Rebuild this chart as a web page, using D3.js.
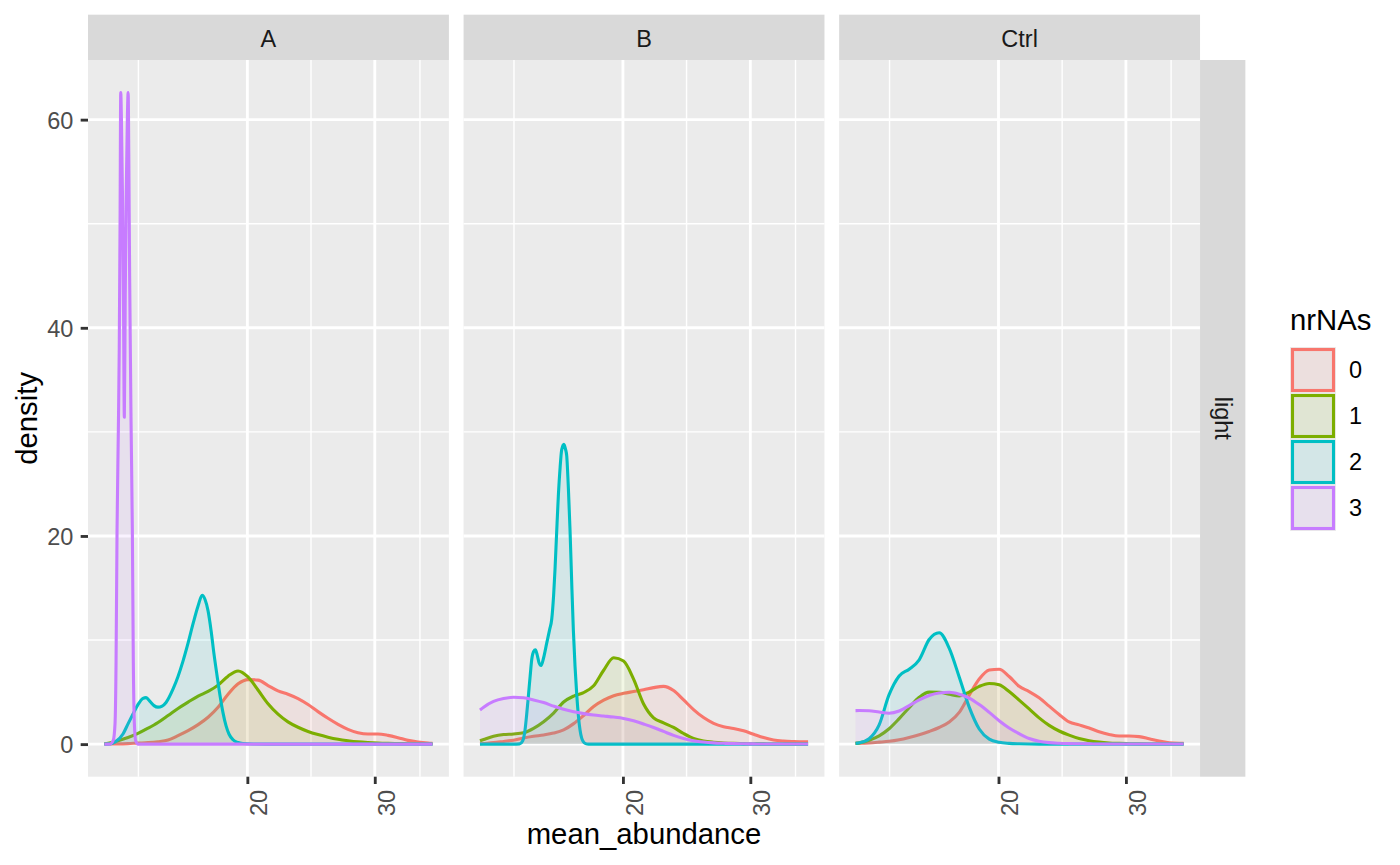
<!DOCTYPE html>
<html><head><meta charset="utf-8">
<script src="https://cdn.jsdelivr.net/npm/d3@7"></script>
<style>
body{margin:0;background:#fff}
svg{display:block}
text{font-family:"Liberation Sans",Arial,Helvetica,sans-serif}
</style>
</head><body>
<svg id="c" width="1400" height="865"></svg>
<script>
// ---------------- data ----------------
const facets = ["A", "B", "Ctrl"];
const groups = ["0", "1", "2", "3"];
const colours = ["#F8766D", "#7CAE00", "#00BFC4", "#C77CFF"];
const xBreaks = [20, 30];
const xMinor = [14.14, 24.49, 34.64];
const yBreaks = [0, 20, 40, 60];
const yMinor = [10, 30, 50];

// common abundance grid (log-spaced) for the smooth curves
const grid = [12.69, 12.84, 13.25, 13.68, 14.12, 14.58, 15.05, 15.54, 16.04, 16.56, 17.10, 17.65, 18.22, 18.81, 19.42, 20.04, 20.69, 21.36, 22.05, 22.76, 23.50, 24.26, 25.04, 25.85, 26.69, 27.55, 28.44, 29.36, 30.31, 31.29, 32.30, 33.35, 34.43, 35.54, 36.05];

const densA0 = [0.00, 0.01, 0.02, 0.05, 0.10, 0.14, 0.23, 0.39, 0.81, 1.29, 1.87, 2.58, 3.54, 4.79, 5.79, 6.20, 6.15, 5.63, 5.11, 4.79, 4.37, 3.80, 3.12, 2.48, 1.90, 1.42, 1.10, 0.97, 0.97, 0.84, 0.62, 0.36, 0.20, 0.10, 0.07];
const densA1 = [0.03, 0.08, 0.32, 0.63, 1.03, 1.53, 2.08, 2.75, 3.43, 4.03, 4.62, 5.06, 5.67, 6.53, 7.03, 6.45, 5.20, 3.88, 2.88, 2.14, 1.62, 1.22, 0.92, 0.67, 0.47, 0.33, 0.22, 0.15, 0.10, 0.07, 0.05, 0.04, 0.02, 0.01, 0.01];
const densB0 = [0.03, 0.06, 0.14, 0.26, 0.38, 0.59, 0.75, 0.88, 1.06, 1.37, 1.97, 2.75, 3.61, 4.22, 4.65, 4.88, 5.05, 5.22, 5.43, 5.55, 5.15, 4.25, 3.32, 2.55, 2.00, 1.68, 1.51, 1.28, 0.95, 0.63, 0.39, 0.29, 0.25, 0.23, 0.23];
const densB1 = [0.33, 0.45, 0.75, 0.92, 0.98, 1.10, 1.52, 2.15, 2.98, 4.05, 4.62, 4.95, 5.60, 7.10, 8.30, 7.98, 6.25, 3.85, 2.52, 2.05, 1.60, 1.02, 0.55, 0.30, 0.18, 0.11, 0.07, 0.05, 0.03, 0.02, 0.01, 0.01, 0.01, 0.01, 0.01];
const densB3 = [3.28, 3.55, 4.10, 4.38, 4.50, 4.45, 4.25, 3.99, 3.65, 3.34, 3.10, 2.93, 2.80, 2.70, 2.60, 2.47, 2.24, 1.93, 1.60, 1.22, 0.84, 0.54, 0.33, 0.20, 0.12, 0.08, 0.05, 0.03, 0.02, 0.01, 0.01, 0.01, 0.01, 0.01, 0.01];
const densC0 = [0.07, 0.08, 0.12, 0.19, 0.27, 0.42, 0.64, 0.90, 1.22, 1.60, 2.12, 3.05, 4.70, 6.25, 7.12, 7.20, 6.50, 5.55, 5.05, 4.45, 3.65, 2.85, 2.13, 1.85, 1.55, 1.19, 0.93, 0.78, 0.78, 0.72, 0.52, 0.30, 0.14, 0.08, 0.07];
const densC1 = [0.07, 0.12, 0.38, 0.80, 1.48, 2.45, 3.50, 4.50, 5.00, 4.98, 4.80, 4.63, 5.00, 5.55, 5.83, 5.70, 5.05, 4.22, 3.38, 2.52, 1.80, 1.26, 0.86, 0.53, 0.32, 0.19, 0.11, 0.07, 0.04, 0.02, 0.01, 0.01, 0.01, 0.01, 0.01];
const densC2 = [0.07, 0.12, 0.52, 1.85, 4.75, 6.55, 7.20, 8.10, 10.05, 10.70, 9.20, 6.45, 3.55, 1.45, 0.48, 0.17, 0.07, 0.03, 0.01, 0.00, 0, 0, 0, 0, 0, 0, 0, 0, 0, 0, 0, 0, 0, 0, 0];
const densC3 = [3.22, 3.23, 3.21, 3.08, 2.97, 3.18, 3.70, 4.25, 4.68, 4.92, 4.98, 4.80, 4.42, 3.80, 3.05, 2.25, 1.55, 1.00, 0.54, 0.28, 0.14, 0.08, 0.05, 0.03, 0.02, 0.01, 0.01, 0.01, 0.01, 0.01, 0.01, 0.01, 0.01, 0.01, 0.01];

// spiky curves with their own finer abundance points
const spikeA2x = [12.69, 12.92, 13.13, 13.47, 13.68, 13.90, 14.12, 14.35, 14.49, 14.67, 14.86, 15.05, 15.25, 15.44, 15.79, 16.04, 16.30, 16.56, 16.83, 17.10, 17.32, 17.48, 17.65, 17.82, 17.99, 18.16, 18.34, 18.51, 18.69, 18.87, 19.11, 19.42, 19.73, 20.37, 21.36, 36.05];
const spikeA2 = [0, 0.02, 0.2, 1.0, 1.95, 2.9, 3.8, 4.4, 4.47, 4.1, 3.7, 3.55, 3.65, 4.0, 5.3, 6.5, 8.0, 9.7, 11.6, 13.3, 14.3, 13.9, 12.8, 10.9, 8.6, 6.6, 4.6, 3.0, 1.75, 0.95, 0.42, 0.15, 0.06, 0.01, 0, 0];
const spikeA3x = [12.69, 12.92, 13.056, 13.127, 13.169, 13.211, 13.266, 13.304, 13.338, 13.367, 13.397, 13.440, 13.483, 13.521, 13.560, 13.603, 13.651, 13.686, 13.716, 13.751, 13.813, 13.870, 13.914, 13.959, 14.021, 14.124, 36.05];
const spikeA3 = [0, 0, 0.4, 2.0, 7.8, 20.6, 30.2, 38, 50, 62.6, 60, 53, 43, 31.4, 43, 53, 60, 62.6, 56, 45, 31, 20.6, 7.8, 2.0, 0.3, 0, 0];
const spikeB2x = [12.69, 14.12, 14.396, 14.534, 14.646, 14.721, 14.801, 14.886, 14.961, 15.052, 15.139, 15.221, 15.318, 15.416, 15.539, 15.693, 15.839, 15.945, 16.041, 16.113, 16.196, 16.283, 16.377, 16.460, 16.576, 16.666, 16.725, 16.815, 16.901, 16.987, 17.080, 17.172, 17.265, 17.359, 17.448, 17.537, 17.632, 17.761, 17.931, 36.05];
const spikeB2 = [0, 0, 0.02, 0.3, 1.36, 2.8, 4.57, 6.5, 8.1, 8.9, 9.06, 8.6, 7.8, 7.55, 8.3, 9.7, 11.0, 12.0, 14.3, 16.8, 20.3, 23.8, 26.6, 28.3, 28.8, 28.3, 27.7, 24.5, 20.6, 15.8, 11.0, 7.5, 4.8, 2.7, 1.36, 0.6, 0.23, 0.05, 0, 0];

// ---------------- assemble ----------------
const zip = (xs, ys) => xs.map((v, i) => [v, ys[i]]);
const series = {
  A:    [zip(grid, densA0), zip(grid, densA1), zip(spikeA2x, spikeA2), zip(spikeA3x, spikeA3)],
  B:    [zip(grid, densB0), zip(grid, densB1), zip(spikeB2x, spikeB2), zip(grid, densB3)],
  Ctrl: [zip(grid, densC0), zip(grid, densC1), zip(grid, densC2), zip(grid, densC3)]
};

// ---------------- layout ----------------
const panelTop = 60, panelH = 716.7, panelW = 360.9, gap = 14.67, left0 = 88;
const stripH = 45.33;
const fontTick = 23.5, fontTitle = 29.3;
const curveW = 3.1;

const allPts = Object.values(series).flat(2);   // list of [x, y]
const xs = allPts.map(d => d[0]), ys = allPts.map(d => d[1]);
const lx0 = Math.log10(d3.min(xs)), lx1 = Math.log10(d3.max(xs)), ex = (lx1 - lx0) * 0.05;
const x = d3.scaleLog().domain([10 ** (lx0 - ex), 10 ** (lx1 + ex)]).range([0, panelW]);
const ymax = d3.max(ys);
const y = d3.scaleLinear().domain([-0.05 * ymax, 1.05 * ymax]).range([panelH, 0]);

const svg = d3.select("#c");
svg.append("rect").attr("width", 1400).attr("height", 865).attr("fill", "#fff");

const area = d3.area().x(d => x(d[0])).y0(y(0)).y1(d => y(d[1])).curve(d3.curveMonotoneX);
const line = d3.line().x(d => x(d[0])).y(d => y(d[1])).curve(d3.curveMonotoneX);

facets.forEach((f, i) => {
  const px = left0 + i * (panelW + gap);
  const g = svg.append("g").attr("transform", `translate(${px},${panelTop})`);
  g.append("rect").attr("width", panelW).attr("height", panelH).attr("fill", "#EBEBEB");
  // minor grid
  g.selectAll(".ymin").data(yMinor).enter().append("line")
    .attr("x1", 0).attr("x2", panelW).attr("y1", d => y(d)).attr("y2", d => y(d))
    .attr("stroke", "#fff").attr("stroke-width", 1.42);
  g.selectAll(".xmin").data(xMinor).enter().append("line")
    .attr("y1", 0).attr("y2", panelH).attr("x1", d => x(d)).attr("x2", d => x(d))
    .attr("stroke", "#fff").attr("stroke-width", 1.42);
  // major grid
  g.selectAll(".ymaj").data(yBreaks).enter().append("line")
    .attr("x1", 0).attr("x2", panelW).attr("y1", d => y(d)).attr("y2", d => y(d))
    .attr("stroke", "#fff").attr("stroke-width", 2.85);
  g.selectAll(".xmaj").data(xBreaks).enter().append("line")
    .attr("y1", 0).attr("y2", panelH).attr("x1", d => x(d)).attr("x2", d => x(d))
    .attr("stroke", "#fff").attr("stroke-width", 2.85);
  // densities
  series[f].forEach((pts, k) => {
    g.append("path").attr("d", area(pts)).attr("fill", colours[k]).attr("fill-opacity", 0.1);
    g.append("path").attr("d", line(pts)).attr("fill", "none").attr("stroke", colours[k])
      .attr("stroke-width", curveW).attr("stroke-linejoin", "round").attr("stroke-linecap", "butt");
  });
  // top strip
  svg.append("rect").attr("x", px).attr("y", panelTop - stripH).attr("width", panelW).attr("height", stripH).attr("fill", "#D9D9D9");
  svg.append("text").attr("x", px + panelW / 2).attr("y", 46.7).attr("text-anchor", "middle")
    .attr("font-size", fontTick).attr("fill", "#1A1A1A").text(f);
  // x axis
  const ax = svg.append("g").attr("transform", `translate(${px},${panelTop + panelH})`)
    .call(d3.axisBottom(x).tickValues(xBreaks).tickFormat(d3.format("d")).tickSize(7.33));
  ax.select(".domain").remove();
  ax.selectAll(".tick line").attr("stroke", "#333333").attr("stroke-width", 2.85);
  ax.selectAll(".tick text").attr("transform", "rotate(-90)").attr("x", -13.2).attr("y", 19.5)
    .attr("dy", 0).attr("text-anchor", "end").attr("font-size", fontTick).attr("fill", "#4D4D4D")
    .attr("font-family", null);
});

// y axis
const ay = svg.append("g").attr("transform", `translate(${left0},${panelTop})`)
  .call(d3.axisLeft(y).tickValues(yBreaks).tickSize(7.33).tickPadding(7.4));
ay.select(".domain").remove();
ay.selectAll(".tick line").attr("stroke", "#333333").attr("stroke-width", 2.85);
ay.selectAll(".tick text").attr("font-size", fontTick).attr("fill", "#4D4D4D").attr("font-family", null).attr("dy", "0.36em");

// right strip
const rsx = left0 + 3 * panelW + 2 * gap;
svg.append("rect").attr("x", rsx).attr("y", panelTop).attr("width", stripH).attr("height", panelH).attr("fill", "#D9D9D9");
svg.append("text").attr("transform", `translate(${rsx + 15},${panelTop + panelH / 2}) rotate(90)`)
  .attr("text-anchor", "middle").attr("font-size", fontTick).attr("fill", "#1A1A1A").text("light");

// axis titles
svg.append("text").attr("x", left0 + (3 * panelW + 2 * gap) / 2).attr("y", 844).attr("text-anchor", "middle")
  .attr("font-size", fontTitle).attr("fill", "#000").text("mean_abundance");
svg.append("text").attr("transform", `translate(37,${panelTop + panelH / 2}) rotate(-90)`)
  .attr("text-anchor", "middle").attr("font-size", fontTitle).attr("fill", "#000").text("density");

// legend
const lg = svg.append("g").attr("transform", "translate(1290,0)");
lg.append("text").attr("x", 0).attr("y", 330).attr("font-size", fontTitle).attr("fill", "#000").text("nrNAs");
groups.forEach((gname, k) => {
  const cy = 370 + 46 * k;
  lg.append("rect").attr("x", 0).attr("y", cy - 23).attr("width", 46).attr("height", 46).attr("fill", "#EBEBEB");
  lg.append("rect").attr("x", 2.5).attr("y", cy - 20.5).attr("width", 41).attr("height", 41)
    .attr("fill", colours[k]).attr("fill-opacity", 0.1).attr("stroke", colours[k]).attr("stroke-width", curveW);
  lg.append("text").attr("x", 59).attr("y", cy).attr("dy", "0.36em").attr("font-size", fontTick).attr("fill", "#000").text(gname);
});
</script>
</body></html>
